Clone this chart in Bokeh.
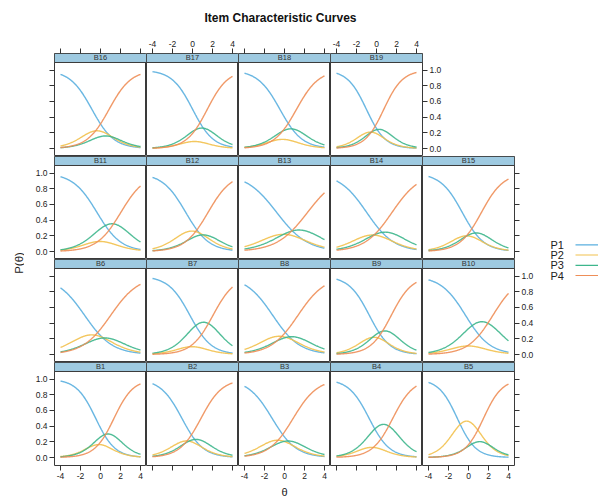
import numpy as np
from bokeh.plotting import figure
from bokeh.models import Range1d, FixedTicker, LinearAxis, NumeralTickFormatter, CustomJSTickFormatter
from bokeh.layouts import row, column
from bokeh.embed import file_html
from bokeh.resources import INLINE
from bokeh.core.properties import value

# ---------------- data (graded response model item parameters) -------------
items = ["B1", "B2", "B3", "B4", "B5", "B6", "B7", "B8", "B9", "B10",
         "B11", "B12", "B13", "B14", "B15", "B16", "B17", "B18", "B19"]
slope_a = [1.04, 0.94, 0.83, 0.98, 1.08, 0.72, 0.93, 0.74, 0.97, 0.81,
           0.83, 0.86, 0.65, 0.73, 0.92, 0.91, 0.97, 0.90, 1.06]
threshold_b1 = [-0.48, -1.06, -1.24, -0.74, -1.12, -1.59, -0.26, -1.18, -0.72, -0.30,
                -0.36, -0.68, -0.79, -0.99, -0.63, -0.86, 0.01, -0.46, -1.01]
threshold_b2 = [0.16, -0.15, -0.16, -0.21, 0.74, -0.17, 0.17, 0.10, 0.20, 0.24,
                0.26, 0.56, 0.58, 0.18, 0.25, 0.15, 0.38, 0.06, -0.21]
threshold_b3 = [1.35, 0.85, 0.87, 1.63, 1.50, 1.02, 2.05, 1.35, 1.48, 2.44,
                2.04, 1.56, 2.31, 1.56, 1.30, 0.86, 1.48, 1.20, 0.73]
categories = ["P1", "P2", "P3", "P4"]
theta_ticks = [-4, -2, 0, 2, 4]
prob_ticks = [0.0, 0.2, 0.4, 0.6, 0.8, 1.0]
panel_rows = [["B16", "B17", "B18", "B19"],
              ["B11", "B12", "B13", "B14", "B15"],
              ["B6", "B7", "B8", "B9", "B10"],
              ["B1", "B2", "B3", "B4", "B5"]]
theta_min, theta_max = -4, 4

# ---------------- style ----------------
colors = ["#5AAFDF", "#F2C14E", "#3DB68C", "#EE8E58"]
strip_color = "#9ECAE1"
frame_col = "#3a3a3a"
FONT = "Liberation Sans"
FW, FH = 92, 103
LB, RB, TB, BB = 30, 30, 23, 20
XLAB_H = 13
XMIN, XMAX = -4.6, 4.6
YMIN, YMAX = -0.102, 1.2117
STRIP_BOTTOM = 1.097

theta = np.linspace(theta_min, theta_max, 161)


def grm_probs(a, b1, b2, b3):
    pstar = [np.ones_like(theta)] + [1.0 / (1.0 + np.exp(-a * (theta - b))) for b in (b1, b2, b3)] + [np.zeros_like(theta)]
    return [pstar[k] - pstar[k + 1] for k in range(4)]


def no_grid(p):
    p.xgrid.visible = False
    p.ygrid.visible = False
    p.xgrid.grid_line_color = None
    p.ygrid.grid_line_color = None


def add_axis(p, side, ticks, show_labels, fmt):
    ax = LinearAxis(ticker=FixedTicker(ticks=ticks))
    ax.major_tick_in = 0
    ax.major_tick_out = 5
    ax.minor_tick_in = 0
    ax.minor_tick_out = 0
    ax.axis_line_color = None
    ax.major_tick_line_color = "#333333"
    ax.major_label_standoff = 2
    ax.major_label_text_font = FONT
    ax.major_label_text_font_size = "8.5px"
    ax.major_label_text_color = "#222222"
    if show_labels:
        ax.formatter = fmt
    else:
        ax.formatter = CustomJSTickFormatter(code="return ''")
    p.add_layout(ax, side)


def make_panel(name, r, c, ncols):
    first, last = c == 0, c == ncols - 1
    top, bottom = r == 0, r == len(panel_rows) - 1
    lb = LB if first else 0
    rb = RB if last else 0
    tb = TB if top else 0
    bb = BB if bottom else 0
    p = figure(width=FW + lb + rb, height=FH + tb + bb,
               x_range=Range1d(XMIN, XMAX), y_range=Range1d(YMIN, YMAX),
               output_backend="svg", toolbar_location=None, tools="", title=None,
               x_axis_location=None, y_axis_location=None,
               min_border_left=lb, min_border_right=rb, min_border_top=tb, min_border_bottom=bb)
    no_grid(p)
    p.outline_line_color = frame_col
    p.outline_line_width = 1
    p.background_fill_color = "white"
    p.border_fill_color = "white"

    i = items.index(name)
    probs = grm_probs(slope_a[i], threshold_b1[i], threshold_b2[i], threshold_b3[i])
    for k in range(4):
        p.line(theta, probs[k], line_color=colors[k], line_width=1.4, line_alpha=0.9)

    # strip
    p.quad(left=[XMIN], right=[XMAX], bottom=[STRIP_BOTTOM], top=[YMAX],
           fill_color=strip_color, line_color=frame_col, line_width=1)
    p.text(x=[(XMIN + XMAX) / 2], y=[(STRIP_BOTTOM + YMAX) / 2], text=[name],
           text_font=value(FONT), text_font_size="7.5px", text_color="#333333",
           text_align="center", text_baseline="middle")

    yfmt = NumeralTickFormatter(format="0.0")
    xfmt = NumeralTickFormatter(format="0")
    if first:
        add_axis(p, "left", prob_ticks, r % 2 == 1, yfmt)
    if last:
        add_axis(p, "right", prob_ticks, r % 2 == 0, yfmt)
    if top:
        add_axis(p, "above", theta_ticks, c % 2 == 1, xfmt)
    if bottom:
        add_axis(p, "below", theta_ticks, c % 2 == 0, xfmt)
    return p


def blank(width, height):
    p = figure(width=width, height=height, x_range=Range1d(0, width), y_range=Range1d(height, 0),
               output_backend="svg", toolbar_location=None, tools="", title=None,
               x_axis_location=None, y_axis_location=None, min_border=0,
               min_border_left=0, min_border_right=0, min_border_top=0, min_border_bottom=0)
    no_grid(p)
    p.outline_line_color = None
    p.background_fill_color = "white"
    p.border_fill_color = "white"
    return p


row_layouts = []
for r, names in enumerate(panel_rows):
    figs = [make_panel(n, r, c, len(names)) for c, n in enumerate(names)]
    row_layouts.append(row(*figs, spacing=0))

mid_width = LB + 5 * FW + RB
xlab = blank(mid_width, XLAB_H)
xlab.text(x=[LB + 2.5 * FW], y=[6.2], text=["θ"], text_font=value(FONT), text_font_size="11px",
          text_color="#222222", text_align="center", text_baseline="middle")
middle = column(*row_layouts, xlab, spacing=0)

mid_height = TB + 4 * FH + BB + XLAB_H
ylab = blank(24, mid_height)
ylab.text(x=[18], y=[232.5], text=["P(θ)"], text_font=value(FONT), text_font_size="11.5px",
          text_color="#222222", text_align="center", text_baseline="middle", angle=np.pi / 2)

leg_w = 598 - 24 - mid_width
legend = blank(leg_w, mid_height)
leg_y = [214.3, 224.5, 234.8, 245.0]
legend.text(x=[6] * 4, y=leg_y, text=categories, text_font=value(FONT), text_font_size="11px",
            text_color="#222222", text_align="left", text_baseline="middle")
legend.segment(x0=[31] * 4, y0=leg_y, x1=[leg_w] * 4, y1=leg_y, line_color=colors, line_width=1.2)

title = blank(598, 30)
title.text(x=[280], y=[17.5], text=["Item Characteristic Curves"], text_font=value(FONT),
           text_font_size="12px", text_font_style="bold", text_color="#111111",
           text_align="center", text_baseline="middle")

page = column(title, row(ylab, middle, legend, spacing=0), spacing=0)

open("out.html", "w").write(file_html(page, INLINE))
